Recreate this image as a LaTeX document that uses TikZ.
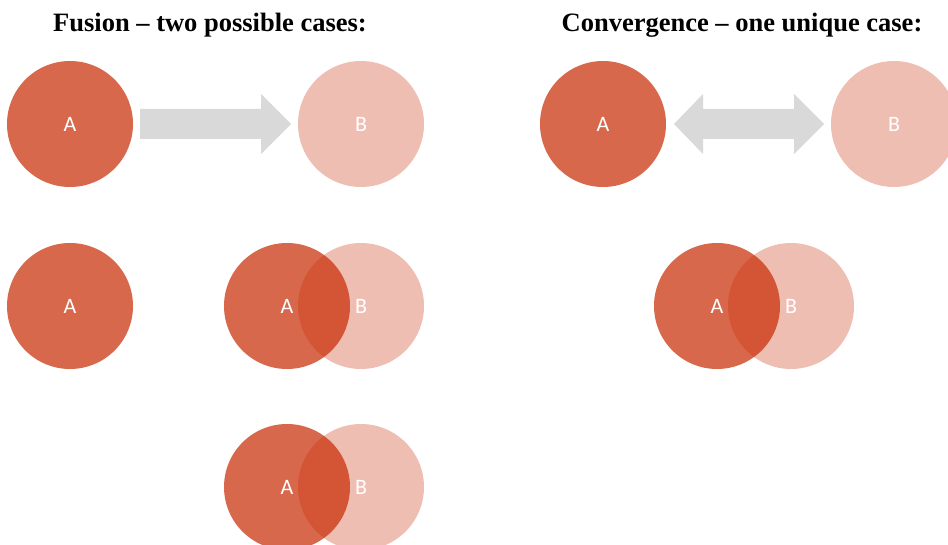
\documentclass[tikz,border=0pt]{standalone}
\usepackage{fontspec}
\setmainfont{Liberation Serif}
\newfontfamily\lettersf{Carlito}
\usepackage{xcolor}
\definecolor{setc}{HTML}{C82800}
\definecolor{arrowc}{HTML}{D9D9D9}
\tikzset{
  setA/.style={circle, fill=setc, fill opacity=0.7, text opacity=1, text=white, minimum size=126pt, inner sep=0pt, font=\lettersf\fontsize{22}{22}\selectfont},
  setB/.style={setA, fill opacity=0.3},
  heading/.style={font=\bfseries\fontsize{26.5}{26.5}\selectfont},
  blockarrow/.style={fill=arrowc},
}
\begin{document}
\begin{tikzpicture}[x=1pt,y=-1pt]
\useasboundingbox (0,0) rectangle (948,545);
\clip (0,0) rectangle (948,545);
\node[heading] (fusion) at (210,25) {Fusion -- two possible cases:};
\node[heading] (conv) at (742,25) {Convergence -- one unique case:};
% fusion
\node[setA] (a1) at (70,124) {A};
\node[setB] (b1) at (361,124) {B};
\fill[blockarrow] (140,109) -- (261,109) -- (261,94) -- (291,124) -- (261,154) -- (261,139) -- (140,139) -- cycle;
\node[setA] (a2) at (70,306) {A};
\node[setA] (a3) at (287,306) {A};
\node[setB] (b3) at (361,306) {B};
\node[setA] (a4) at (287,487) {A};
\node[setB] (b4) at (361,487) {B};
% convergence
\node[setA] (a5) at (603,124) {A};
\node[setB] (b5) at (894,124) {B};
\fill[blockarrow] (674,124) -- (703,94) -- (703,109) -- (794,109) -- (794,94) -- (824,124) -- (794,154) -- (794,139) -- (703,139) -- (703,154) -- cycle;
\node[setA] (a6) at (717,306) {A};
\node[setB] (b6) at (791,306) {B};
\end{tikzpicture}
\end{document}
